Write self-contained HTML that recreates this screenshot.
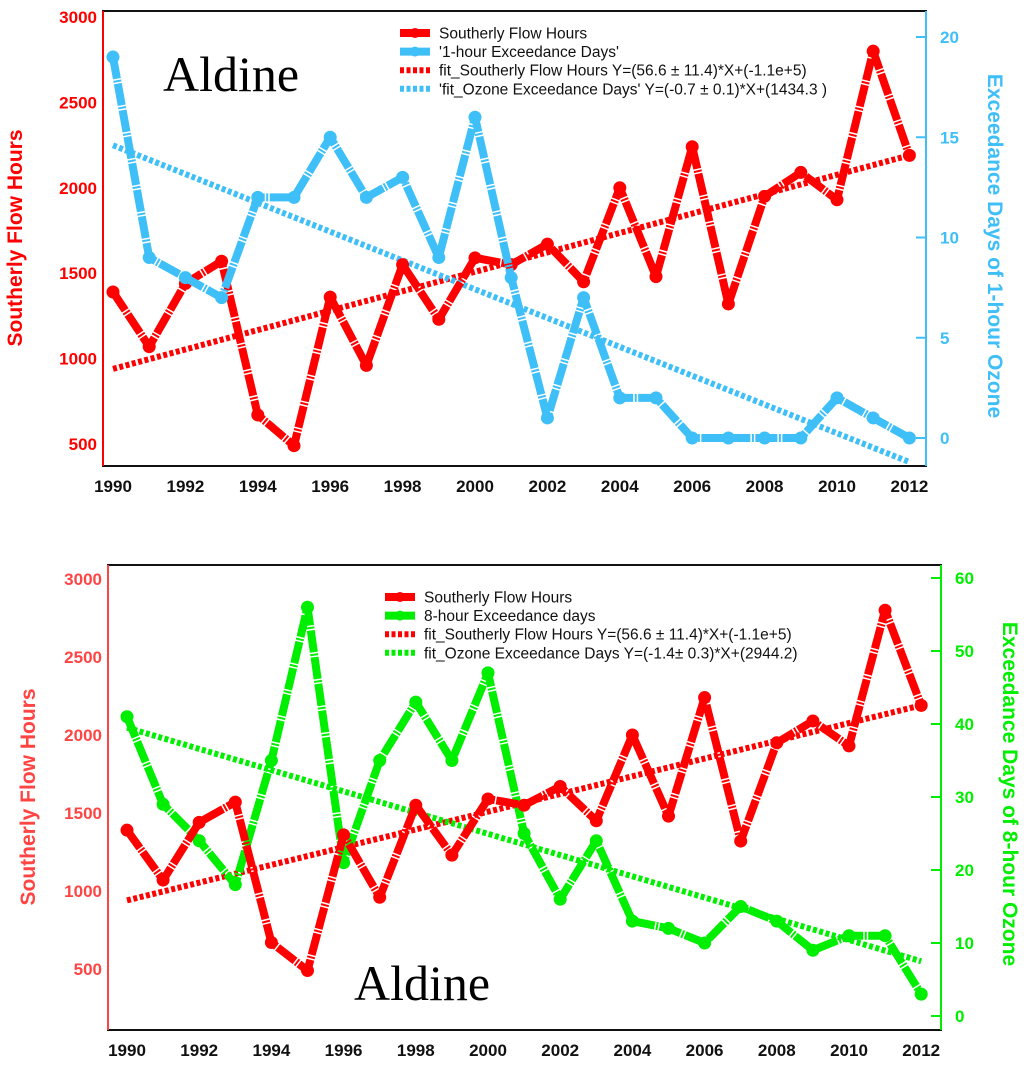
<!DOCTYPE html>
<html><head><meta charset="utf-8">
<style>
html,body{margin:0;padding:0;background:#fff;}
svg{display:block;}
text{font-family:"Liberation Sans",Arial,sans-serif;}
</style></head>
<body>
<svg id="c" width="1024" height="1091" viewBox="0 0 1024 1091" xmlns="http://www.w3.org/2000/svg"></svg>
<script>
const years = [1990,1991,1992,1993,1994,1995,1996,1997,1998,1999,2000,2001,2002,2003,2004,2005,2006,2007,2008,2009,2010,2011,2012];
const southerlyHours = [1390,1070,1440,1570,670,490,1360,960,1550,1230,1590,1550,1670,1450,2000,1480,2240,1320,1950,2090,1930,2800,2190];
const oneHourDays = [19,9,8,7,12,12,15,12,13,9,16,8,1,7,2,2,0,0,0,0,2,1,0];
const eightHourDays = [41,29,24,18,35,56,21,35,43,35,47,25,16,24,13,12,10,15,13,9,11,11,3];
const southerlyFit = [940,2190];
const oneHourFit = [14.6,-1.2];
const eightHourFit = [39.5,7.5];
const leftTicks = [500,1000,1500,2000,2500,3000];
const rightTicksTop = [0,5,10,15,20];
const rightTicksBottom = [0,10,20,30,40,50,60];
const xTicks = [1990,1992,1994,1996,1998,2000,2002,2004,2006,2008,2010,2012];

const NS='http://www.w3.org/2000/svg';
const svg=document.getElementById('c');
function mk(tag,attrs,parent,txt){const e=document.createElementNS(NS,tag);for(const k in attrs)e.setAttribute(k,attrs[k]);if(txt!==undefined)e.textContent=txt;(parent||svg).appendChild(e);return e;}

function panel(cfg){
  const g=mk('g',{});
  
  
  const xs=v=>cfg.x0+(v-1990)*cfg.xstep;
  const yl=v=>cfg.lb-(v-500)*cfg.lk;
  const yr=v=>cfg.r0-v*cfg.rk;
  // frame
  const fr=mk('rect',{x:cfg.L,y:cfg.T,width:cfg.R-cfg.L,height:cfg.B-cfg.T,fill:'none',stroke:'#111','stroke-width':2},g);
  
  
  const la=mk('line',{x1:cfg.L,y1:cfg.T,x2:cfg.L,y2:cfg.B,stroke:cfg.lcol,'stroke-width':2},g);
  
  
  const ra=mk('line',{x1:cfg.R,y1:cfg.T,x2:cfg.R,y2:cfg.B,stroke:cfg.rcol,'stroke-width':2},g);
  
  
  leftTicks.forEach(v=>{
    const t=mk('text',{x:cfg.L-6,y:yl(v)+6,'text-anchor':'end','font-size':17,'font-weight':'bold',fill:cfg.lcol},g,String(v));
    
    
  });
  cfg.rticks.forEach(v=>{
    const tl=mk('line',{x1:cfg.R-10,y1:yr(v),x2:cfg.R,y2:yr(v),stroke:cfg.rcol,'stroke-width':2},g);
    
    
    const t=mk('text',{x:cfg.R+14,y:yr(v)+6,'text-anchor':'start','font-size':17,'font-weight':'bold',fill:cfg.rcol},g,String(v));
    
    
  });
  xTicks.forEach(v=>{
    const t=mk('text',{x:xs(v),y:cfg.B+26,'text-anchor':'middle','font-size':17,'font-weight':'bold',fill:'#111'},g,String(v));
    
    
  });
  // titles
  const lt=mk('text',{x:0,y:0,transform:`translate(${cfg.ltx},${cfg.lty}) rotate(-90)`,'text-anchor':'middle','font-size':21,'font-weight':'bold',fill:cfg.lcol},g,'Southerly Flow Hours');
  
  
  const rt=mk('text',{x:0,y:0,transform:`translate(${cfg.rtx},${cfg.rty}) rotate(90)`,'text-anchor':'middle','font-size':21,'font-weight':'bold',fill:cfg.rcol,'xml:space':'preserve'},g,cfg.rtitle);
  
  
  // fits
  const f1=mk('line',{x1:xs(1990),y1:yl(southerlyFit[0]),x2:xs(2012),y2:yl(southerlyFit[1]),stroke:'#ff0000','stroke-width':6,'stroke-dasharray':'4 2.5'},g);
  
  
  const f2=mk('line',{x1:xs(1990),y1:yr(cfg.fit[0]),x2:xs(2012),y2:yr(cfg.fit[1]),stroke:cfg.scol,'stroke-width':6,'stroke-dasharray':'4 2.5'},g);
  
  
  // series
  function series(vals,yf,col,nm){
    const pts=vals.map((v,i)=>xs(years[i])+','+yf(v)).join(' ');
    const pl=mk('polyline',{points:pts,fill:'none',stroke:col,'stroke-width':8,'stroke-linejoin':'round','stroke-dasharray':'22 1.5 2 1.5'},g);
    
    
    vals.forEach((v,i)=>{
      const c=mk('circle',{cx:xs(years[i]),cy:yf(v),r:6.5,fill:col},g);
      
      
    });
  }
  if(cfg.redFirst){series(southerlyHours,yl,'#ff0000','southerly');series(cfg.data,yr,cfg.scol,'ozone');}
  else{series(cfg.data,yr,cfg.scol,'ozone');series(southerlyHours,yl,'#ff0000','southerly');}
  // legend
  const lg=mk('g',{},g);
  
  
  const rows=[['#ff0000',false,'Southerly Flow Hours'],[cfg.scol,false,cfg.leg[0]],['#ff0000',true,'fit_Southerly Flow Hours Y=(56.6 \u00b1 11.4)*X+(-1.1e+5)'],[cfg.scol,true,cfg.leg[1]]];
  rows.forEach((r,i)=>{
    const y=cfg.legY+i*18.6;
    const e=mk('g',{},lg);
    
    
    if(r[1]) mk('line',{x1:cfg.legX,y1:y,x2:cfg.legX+30,y2:y,stroke:r[0],'stroke-width':6,'stroke-dasharray':'4 2.5'},e);
    else{mk('line',{x1:cfg.legX,y1:y,x2:cfg.legX+30,y2:y,stroke:r[0],'stroke-width':8},e);mk('circle',{cx:cfg.legX+15,cy:y,r:5,fill:r[0]},e);}
    mk('text',{x:cfg.legX+39,y:y+5.5,'font-size':15.5,fill:'#111','xml:space':'preserve'},e,r[2]);
  });
  const al=mk('text',{x:cfg.alx,y:cfg.aly,'font-size':50,fill:'#000','font-family':'"Liberation Serif",serif',style:'font-family:"Liberation Serif",serif'},g,'Aldine');
  
  
}

panel({name:'top-panel-1hour',L:103,R:926,T:11,B:466,x0:113,xstep:36.2,lb:444,lk:0.1708,r0:438,rk:20.05,
  lcol:'#ff0000',rcol:'#3fbff7',scol:'#3fbff7',rticks:rightTicksTop,data:oneHourDays,fit:oneHourFit,
  ltx:22,lty:238,rtx:988,rty:246,rtitle:'Exceedance Days of 1-hour  Ozone',redFirst:true,
  leg:["'1-hour Exceedance Days'","'fit_Ozone Exceedance Days' Y=(-0.7 \u00b1 0.1)*X+(1434.3 )"],legX:400,legY:33,alx:163,aly:91});
panel({name:'bottom-panel-8hour',L:108,R:941,T:565,B:1030,x0:127,xstep:36.1,lb:969,lk:0.156,r0:1016,rk:7.3,
  lcol:'#ff4444',rcol:'#00ee00',scol:'#00ee00',rticks:rightTicksBottom,data:eightHourDays,fit:eightHourFit,
  ltx:35,lty:797,rtx:1003,rty:794,rtitle:'Exceedance Days of 8-hour  Ozone',redFirst:false,
  leg:['8-hour Exceedance days','fit_Ozone Exceedance Days Y=(-1.4\u00b1 0.3)*X+(2944.2)'],legX:385,legY:597,alx:354,aly:1000});
</script>
</body></html>
